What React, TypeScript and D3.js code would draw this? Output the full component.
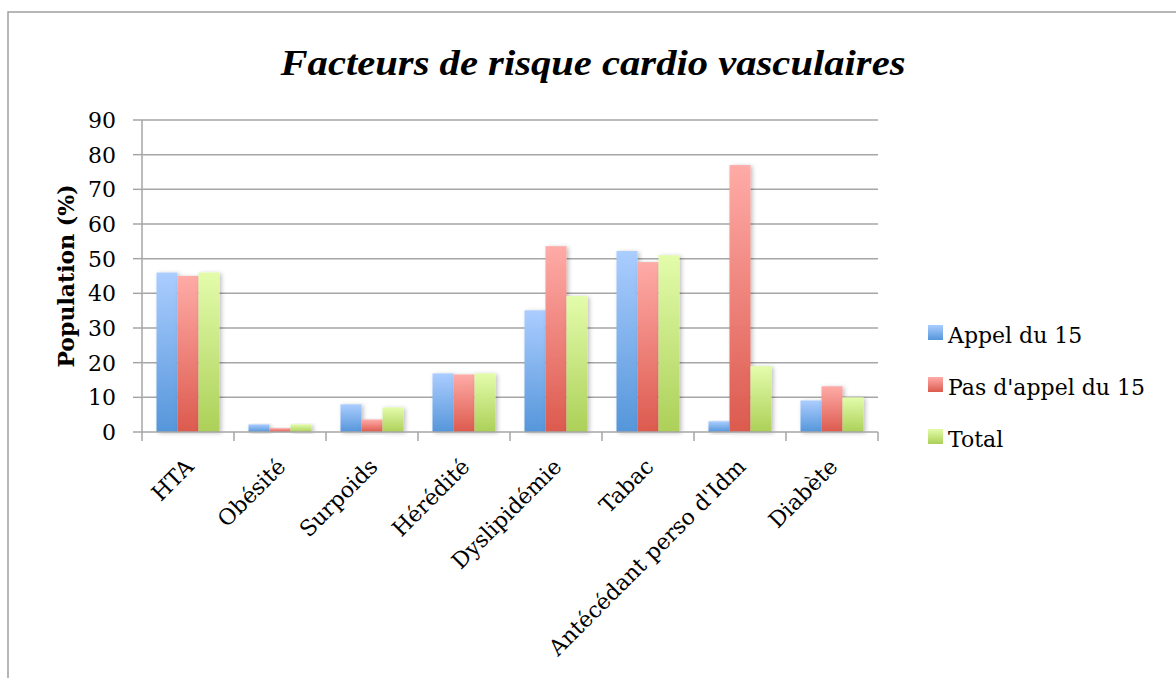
import React from 'react';
import * as d3 from 'd3';

const categories = ['HTA', 'Obésité', 'Surpoids', 'Hérédité', 'Dyslipidémie', 'Tabac', "Antécédant perso d'Idm", 'Diabète'];
const seriesNames = ['Appel du 15', "Pas d'appel du 15", 'Total'];
const appel = [46, 2.2, 8, 16.9, 35.1, 52.2, 3.1, 9.1];
const pasAppel = [45, 1.1, 3.6, 16.6, 53.6, 49, 77, 13.2];
const total = [46, 2.2, 7.1, 16.9, 39.2, 51, 19, 10];
const yTicks = [0, 10, 20, 30, 40, 50, 60, 70, 80, 90];

const seriesValues = [appel, pasAppel, total];
// couleurs dégradé (haut, bas)
const colors: [string, string][] = [
  ['#abcdff', '#5596da'],
  ['#ffaba7', '#dc5a4e'],
  ['#e3fcab', '#acd058'],
];

const W = 1176;
const H = 678;
const margin = { top: 120, right: 298, bottom: 246, left: 142 };
const font = '"DejaVu Serif", serif';

const App: React.FC = () => {
  const x0 = d3
    .scaleBand<string>()
    .domain(categories)
    .range([margin.left, W - margin.right])
    .paddingInner(0)
    .paddingOuter(0);

  const x1 = d3
    .scaleBand<string>()
    .domain(seriesNames)
    .range([0, x0.bandwidth()])
    .paddingInner(0)
    .paddingOuter(0.69);

  const y = d3.scaleLinear().domain([0, 90]).range([H - margin.bottom, margin.top]);

  const y0 = y(0);
  const gridColor = '#a6a6a6';

  return (
    <div style={{ position: 'fixed', left: 0, top: 0, width: W, height: H, overflow: 'hidden', background: '#fff' }}>
      <svg width={W} height={H} style={{ display: 'block' }}>
        <defs>
          {colors.map((c, i) => (
            <linearGradient key={i} id={`grad-${i}`} x1="0" y1="0" x2="0" y2="1">
              <stop offset="0%" stopColor={c[0]} />
              <stop offset="100%" stopColor={c[1]} />
            </linearGradient>
          ))}
          <filter id="shadow" x="-30%" y="-10%" width="160%" height="130%">
            <feDropShadow dx="2" dy="1" stdDeviation="2" floodColor="#000" floodOpacity="0.25" />
          </filter>
        </defs>

        {/* cadre */}
        <rect x={8} y={12} width={W + 20} height={H + 20} fill="none" stroke="#a0a0a0" strokeWidth={1.5} />

        {/* titre */}
        <text
          x={593}
          y={75}
          textAnchor="middle"
          fontFamily='"Liberation Serif", serif'
          fontWeight="bold"
          fontStyle="italic"
          fontSize={35}
          textLength={625}
          lengthAdjust="spacingAndGlyphs"
        >
          Facteurs de risque cardio vasculaires
        </text>

        {/* grille */}
        {yTicks.map((t) => (
          <g key={t}>
            {t > 0 && (
              <line x1={margin.left} x2={W - margin.right} y1={y(t)} y2={y(t)} stroke={gridColor} strokeWidth={1.5} />
            )}
            <line x1={margin.left - 9} x2={margin.left} y1={y(t)} y2={y(t)} stroke={gridColor} strokeWidth={1.5} />
            <text x={116} y={y(t)} dy="0.36em" textAnchor="end" fontFamily={font} fontSize={22}>
              {t}
            </text>
          </g>
        ))}

        {/* barres */}
        {categories.map((cat, ci) => (
          <g key={cat} transform={`translate(${x0(cat)},0)`}>
            {seriesNames.map((s, si) => {
              const v = seriesValues[si][ci];
              return (
                <rect
                  key={s}
                  x={x1(s)}
                  y={y(v)}
                  width={x1.bandwidth()}
                  height={y0 - y(v)}
                  fill={`url(#grad-${si})`}
                  filter="url(#shadow)"
                />
              );
            })}
          </g>
        ))}

        {/* axe y */}
        <line x1={margin.left} x2={margin.left} y1={margin.top} y2={y0} stroke={gridColor} strokeWidth={1.5} />
        {/* axe x */}
        <line x1={margin.left} x2={W - margin.right} y1={y0} y2={y0} stroke={gridColor} strokeWidth={1.5} />
        {[...categories.map((c) => x0(c)!), W - margin.right].map((xv, i) => (
          <line key={i} x1={xv} x2={xv} y1={y0} y2={y0 + 9} stroke={gridColor} strokeWidth={1.5} />
        ))}

        {/* étiquettes x */}
        {categories.map((cat) => {
          const cx = x0(cat)! + x0.bandwidth() / 2 + 7;
          return (
            <text
              key={cat}
              transform={`translate(${cx},468) rotate(-45)`}
              textAnchor="end"
              fontFamily={font}
              fontSize={22}
            >
              {cat}
            </text>
          );
        })}

        {/* titre axe y */}
        <text
          transform={`translate(74,${(margin.top + y0) / 2}) rotate(-90)`}
          textAnchor="middle"
          fontFamily={font}
          fontWeight="bold"
          fontSize={22}
        >
          Population (%)
        </text>

        {/* légende */}
        {seriesNames.map((s, i) => (
          <g key={s} transform={`translate(928,${325 + i * 52})`}>
            <rect width={15} height={15} fill={`url(#grad-${i})`} />
            <text x={20} y={18} fontFamily={font} fontSize={22}>
              {s}
            </text>
          </g>
        ))}
      </svg>
    </div>
  );
};

export default App;
